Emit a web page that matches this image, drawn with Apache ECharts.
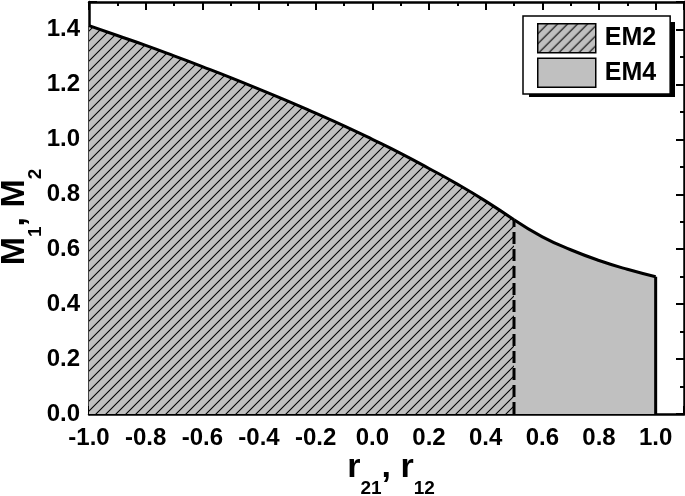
<!DOCTYPE html>
<html>
<head>
<meta charset="utf-8">
<script src="https://cdn.jsdelivr.net/npm/echarts@6/dist/echarts.min.js"></script>
<style>
html,body{margin:0;padding:0;background:#fff;}
#chart{width:685px;height:496px;}
</style>
</head>
<body>
<div id="chart"></div>
<script>
// Data
var em2R = [-1.0, -0.9, -0.8, -0.7, -0.6, -0.5, -0.4, -0.3, -0.2, -0.1, 0.0, 0.1, 0.2, 0.3, 0.4, 0.5];
var em2M = [1.414, 1.378, 1.342, 1.304, 1.265, 1.225, 1.183, 1.140, 1.095, 1.049, 1.000, 0.949, 0.894, 0.837, 0.775, 0.707];
var em4R = [0.5, 0.6, 0.7, 0.8, 0.9, 1.0];
var em4M = [0.707, 0.645, 0.598, 0.559, 0.527, 0.500];
var boundaryR = [0.5, 1.0];
var xTickMin = -1.0, xTickMax = 1.1, xStep = 0.2;
var yTickMin = 0.0, yTickMax = 1.5, yStep = 0.2;
var legendNames = ['EM2', 'EM4'];

function zip(a, b) { return a.map(function (v, i) { return [v, b[i]]; }); }

// hatch pattern
var pc = document.createElement('canvas');
pc.width = 10; pc.height = 10;
var ctx = pc.getContext('2d');
ctx.fillStyle = '#c0c0c0';
ctx.fillRect(0, 0, 10, 10);
ctx.strokeStyle = '#000';
ctx.lineWidth = 1.1;
ctx.beginPath();
ctx.moveTo(0, 10); ctx.lineTo(10, 0);
ctx.moveTo(-2, 2); ctx.lineTo(2, -2);
ctx.moveTo(8, 12); ctx.lineTo(12, 8);
ctx.stroke();
var hatch = { image: pc, repeat: 'repeat' };
var gray = '#c0c0c0';

var FONT = 'Liberation Sans';
function fmt1(v) {
  if (v > 1.05) return '';
  return v.toFixed(1);
}
function fmtY(v) {
  if (v > 1.45) return '';
  return v.toFixed(1);
}
var rich = {
  b: { fontFamily: FONT, fontWeight: 'bold', fontSize: 34, lineHeight: 36, verticalAlign: 'top', color: '#000' },
  s: { fontFamily: FONT, fontWeight: 'bold', fontSize: 19, lineHeight: 22, padding: [28, 0, 0, 0], verticalAlign: 'top', color: '#000' }
};

var axisLine = { show: true, onZero: false, lineStyle: { color: '#000', width: 2.5 } };
var tick = { show: true, inside: true, length: 8, lineStyle: { color: '#000', width: 2 } };
var minor = { show: true, splitNumber: 2, length: 4, lineStyle: { color: '#000', width: 2 } };
var lbl = { fontFamily: FONT, fontWeight: 'bold', fontSize: 24, color: '#000' };

var chart = echarts.init(document.getElementById('chart'), null, { renderer: 'canvas' });
chart.setOption({
  animation: false,
  backgroundColor: '#fff',
  grid: { left: 89, right: 1, top: 2, bottom: 82, containLabel: false, outerBoundsMode: 'none' },
  graphic: [{
    type: 'rect', left: 529, top: 22, z: 1,
    shape: { width: 146, height: 75 },
    style: { fill: '#000' }
  }],
  legend: {
    orient: 'vertical',
    left: 523, top: 16,
    padding: [7, 14, 6, 14],
    itemGap: 4,
    itemWidth: 58, itemHeight: 29,
    backgroundColor: '#fff',
    borderColor: '#000', borderWidth: 1.5,
    z: 5,
    textStyle: { fontFamily: FONT, fontWeight: 'bold', fontSize: 25, color: '#000', padding: [0, 0, 0, 4] },
    data: [
      { name: legendNames[0], icon: 'rect', itemStyle: { color: hatch, borderColor: '#000', borderWidth: 1.5 } },
      { name: legendNames[1], icon: 'rect', itemStyle: { color: gray, borderColor: '#000', borderWidth: 1.5 } }
    ]
  },
  xAxis: [{
    type: 'value', min: xTickMin, max: xTickMax, interval: xStep,
    position: 'bottom',
    name: '{b|r}{s|21}{b|, r}{s|12}',
    nameLocation: 'middle', nameGap: 37, nameMoveOverlap: false,
    nameTextStyle: { rich: rich, padding: [0, 0, 0, 9] },
    axisLine: axisLine, axisTick: tick, minorTick: minor,
    splitLine: { show: false },
    axisLabel: Object.assign({ formatter: fmt1, margin: 12 }, lbl)
  }, {
    type: 'value', min: xTickMin, max: xTickMax, interval: xStep,
    position: 'top',
    axisLine: axisLine, axisTick: tick, minorTick: minor,
    splitLine: { show: false }, axisLabel: { show: false }
  }],
  yAxis: [{
    type: 'value', min: yTickMin, max: yTickMax, interval: yStep,
    position: 'left',
    name: '{b|M}{s|1}{b|, M}{s|2}',
    nameLocation: 'middle', nameGap: 55, nameRotate: 90, nameMoveOverlap: false,
    nameTextStyle: { rich: rich, padding: [0, 18, 0, 0] },
    axisLine: axisLine, axisTick: tick, minorTick: minor,
    splitLine: { show: false },
    axisLabel: Object.assign({ formatter: fmtY, margin: 9 }, lbl)
  }, {
    type: 'value', min: yTickMin, max: yTickMax, interval: yStep,
    position: 'right',
    axisLine: axisLine, axisTick: tick, minorTick: minor,
    splitLine: { show: false }, axisLabel: { show: false }
  }],
  series: [{
    name: legendNames[0], type: 'line', smooth: true, showSymbol: false, symbol: 'none',
    data: zip(em2R, em2M),
    itemStyle: { color: '#000' },
    lineStyle: { color: '#000', width: 3 },
    areaStyle: { color: hatch, opacity: 1 },
    z: 2
  }, {
    name: legendNames[1], type: 'line', smooth: true, showSymbol: false, symbol: 'none',
    data: zip(em4R, em4M),
    itemStyle: { color: '#000' },
    lineStyle: { color: '#000', width: 3 },
    areaStyle: { color: gray, opacity: 1 },
    z: 2
  }, {
    name: 'boundary05', type: 'line', showSymbol: false, symbol: 'none',
    data: [[boundaryR[0], 0], [boundaryR[0], em2M[em2M.length - 1]]],
    lineStyle: { color: '#000', width: 3, type: [12, 5] },
    z: 3
  }, {
    name: 'boundary10', type: 'line', showSymbol: false, symbol: 'none',
    data: [[boundaryR[1], 0], [boundaryR[1], em4M[em4M.length - 1]]],
    lineStyle: { color: '#000', width: 3 },
    z: 3
  }]
});
</script>
</body>
</html>
